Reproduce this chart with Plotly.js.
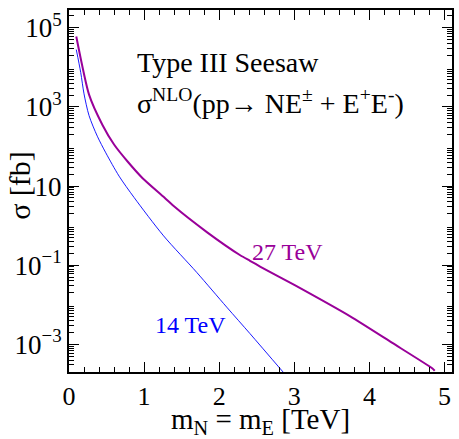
<!DOCTYPE html>
<html>
<head>
<meta charset="utf-8">
<script src="https://cdn.plot.ly/plotly-3.0.1.min.js"></script>
<style>html,body{margin:0;padding:0;background:#fff;overflow:hidden;}#chart{width:459px;height:439px;}</style>
</head>
<body>
<div id="chart"></div>
<script>
// 27 TeV curve (mass in TeV, cross section in fb)
const mass27 = [0.097, 0.267, 0.444, 0.60, 0.78, 0.98, 1.27, 1.39, 1.84, 2.28, 2.41, 2.55, 3.00, 3.75, 4.30, 4.84, 4.87];
const sigma27 = [6.03e4, 2.04e3, 355, 112, 41.7, 15.8, 5.13, 3.16, 0.676, 0.178, 0.129, 0.0912, 0.0316, 5.0e-3, 1.10e-3, 2.45e-4, 2.15e-4];
// 14 TeV curve
const mass14 = [0.097, 0.156, 0.20, 0.267, 0.377, 0.49, 0.667, 0.867, 1.26, 1.70, 2.10, 2.41, 2.86];
const sigma14 = [2.82e4, 7.41e3, 2.14e3, 603, 182, 69.2, 17.8, 5.13, 0.55, 0.066, 8.7e-3, 1.86e-3, 1.9e-4];
// axis ticks
const yLabelVals = [1e-3, 1e-1, 10, 1e3, 1e5];
const yLabelText = ['10<sup>−3</sup>', '10<sup>−1</sup>', '10', '10<sup>3</sup>', '10<sup>5</sup>'];
const yUnlabelledVals = [1e-2, 1, 100, 1e4];
const xTickVals = [0, 1, 2, 3, 4, 5];
const xTickText = ['0', '1', '2', '3', '4', '5'];

const yMinorVals = [];
for (let e = -4; e <= 5; e++) {
  for (let m = 2; m <= 9; m++) yMinorVals.push(m * Math.pow(10, e));
}

const purple = '#990099';
const blue = '#0000ff';
const font = 'Liberation Serif, Times New Roman, serif';
const yRange = [-3.7, 5.45];

const traces = [
  {x: mass14, y: sigma14, type: 'scatter', mode: 'lines', line: {color: blue, width: 0.9, shape: 'spline', smoothing: 0.8}, showlegend: false},
  {x: mass27, y: sigma27, type: 'scatter', mode: 'lines', line: {color: purple, width: 2, shape: 'spline', smoothing: 0.6}, showlegend: false}
];

const layout = {
  width: 459, height: 439,
  margin: {l: 69, r: 7, t: 10, b: 67},
  paper_bgcolor: '#fff', plot_bgcolor: '#fff',
  font: {family: font, color: '#000', size: 27},
  xaxis: {
    range: [0, 5.1], showgrid: false, zeroline: false,
    showline: true, linecolor: '#000', linewidth: 2, mirror: 'ticks',
    ticks: 'inside', ticklen: 10, tickwidth: 1, tickcolor: '#000',
    tickmode: 'array', tickvals: xTickVals, ticktext: xTickText,
    tickfont: {family: font, size: 26},
    minor: {dtick: 0.2, tick0: 0, ticks: 'inside', ticklen: 5, tickwidth: 1, tickcolor: '#000', showgrid: false},
    title: {text: 'm<sub>N</sub> = m<sub>E</sub> [TeV]', font: {family: font, size: 29, color: '#000'}, standoff: 0}
  },
  yaxis: {
    type: 'log', range: yRange, showgrid: false, zeroline: false,
    showline: true, linecolor: '#000', linewidth: 2, mirror: 'ticks',
    ticks: 'inside', ticklen: 10, tickwidth: 1, tickcolor: '#000',
    tickmode: 'array', tickvals: yLabelVals, ticktext: yLabelText,
    tickfont: {family: font, size: 27},
    minor: {tickmode: 'array', tickvals: yMinorVals, ticks: 'inside', ticklen: 5, tickwidth: 1, tickcolor: '#000', showgrid: false}
  },
  yaxis2: {
    type: 'log', range: yRange, overlaying: 'y', side: 'left', showgrid: false, zeroline: false,
    showline: false, mirror: 'ticks', ticks: 'inside', ticklen: 10, tickwidth: 1, tickcolor: '#000',
    tickmode: 'array', tickvals: yUnlabelledVals, showticklabels: false
  },
  annotations: [
    {xref: 'paper', yref: 'paper', x: -0.128, y: 0.517, xanchor: 'center', yanchor: 'middle', showarrow: false, textangle: -90,
     text: 'σ [fb]', font: {family: font, size: 30, color: '#000'}},
    {xref: 'paper', yref: 'paper', x: 0.172, y: 0.856, xanchor: 'left', yanchor: 'middle', showarrow: false,
     text: 'Type III Seesaw', font: {family: font, size: 28, color: '#000'}},
    {xref: 'paper', yref: 'paper', x: 0.172, y: 0.748, xanchor: 'left', yanchor: 'middle', showarrow: false,
     text: 'σ<sup>NLO</sup>(pp→ NE<sup>±</sup> + E<sup>+</sup>E<sup>-</sup>)', font: {family: font, size: 28, color: '#000'}},
    {xref: 'x', yref: 'paper', x: 2.41, y: 0.331, xanchor: 'left', yanchor: 'middle', showarrow: false,
     text: '27 TeV', font: {family: font, size: 24, color: purple}},
    {xref: 'x', yref: 'paper', x: 1.12, y: 0.13, xanchor: 'left', yanchor: 'middle', showarrow: false,
     text: '14 TeV', font: {family: font, size: 24, color: blue}}
  ]
};

Plotly.newPlot('chart', traces, layout, {displayModeBar: false, staticPlot: true});
</script>
</body>
</html>
